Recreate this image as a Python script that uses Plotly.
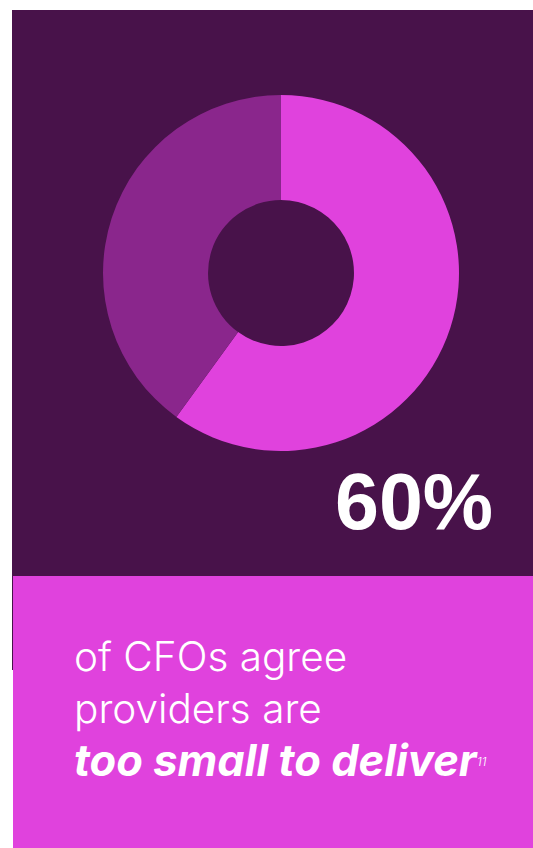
import plotly.graph_objects as go

# Survey share shown in the donut
labels = ["Agree", "Other"]
values = [60, 40]
slice_colors = ["#E042DD", "#8A268C"]

headline = "60%"
body_lines = ["of CFOs agree", "providers are"]
emphasis = "too small to deliver"
footnote = "11"

W, H = 533, 848
BG_DARK = "#48124A"
BG_PINK = "#E042DD"


def px_x(x):
    return x / W


def px_y(y):
    return 1 - y / H


fig = go.Figure()

# donut centred at (281, 273) px with an outer radius of 178 px
cx, cy, r = 281, 273, 178
fig.add_trace(go.Pie(
    labels=labels,
    values=values,
    hole=0.41,
    sort=False,
    direction="clockwise",
    rotation=0,
    marker=dict(colors=slice_colors, line=dict(width=0)),
    textinfo="none",
    hoverinfo="label+percent",
    showlegend=False,
    domain=dict(x=[px_x(cx - r), px_x(cx + r)], y=[px_y(cy + r), px_y(cy - r)]),
))

shapes = [
    # dark panel behind the chart
    dict(type="rect", xref="paper", yref="paper", layer="below",
         x0=px_x(12), x1=px_x(W), y0=px_y(670), y1=px_y(10),
         fillcolor=BG_DARK, line=dict(width=0)),
    # pink caption panel
    dict(type="rect", xref="paper", yref="paper", layer="below",
         x0=px_x(13), x1=px_x(W), y0=px_y(H), y1=px_y(576),
         fillcolor=BG_PINK, line=dict(width=0)),
]

body_font = dict(family="Inter, Liberation Sans, sans-serif", size=40.5, color="white", weight=300)

annotations = [
    dict(text=f"<b>{headline}</b>", x=px_x(495), y=px_y(501), xanchor="right", yanchor="middle",
         font=dict(family="Liberation Sans, Arial, sans-serif", size=79, color="white")),
    dict(text=body_lines[0], x=px_x(72), y=px_y(656), xanchor="left", yanchor="middle", font=body_font),
    dict(text=body_lines[1], x=px_x(72), y=px_y(708), xanchor="left", yanchor="middle", font=body_font),
    dict(text=f"<b><i>{emphasis}</i></b>", x=px_x(72), y=px_y(760), xanchor="left", yanchor="middle",
         font=dict(family="Inter, Liberation Sans, sans-serif", size=43.5, color="white", weight=700)),
    dict(text=f"<i>{footnote}</i>", x=px_x(475), y=px_y(761), xanchor="left", yanchor="middle",
         font=dict(family="Inter, Liberation Sans, sans-serif", size=12, color="white", weight=300)),
]
for a in annotations:
    a.update(xref="paper", yref="paper", showarrow=False)

fig.update_layout(
    width=W, height=H,
    margin=dict(l=0, r=0, t=0, b=0),
    paper_bgcolor="white",
    plot_bgcolor="white",
    shapes=shapes,
    annotations=annotations,
)

fig.write_html("out.html", config={"displayModeBar": False})
